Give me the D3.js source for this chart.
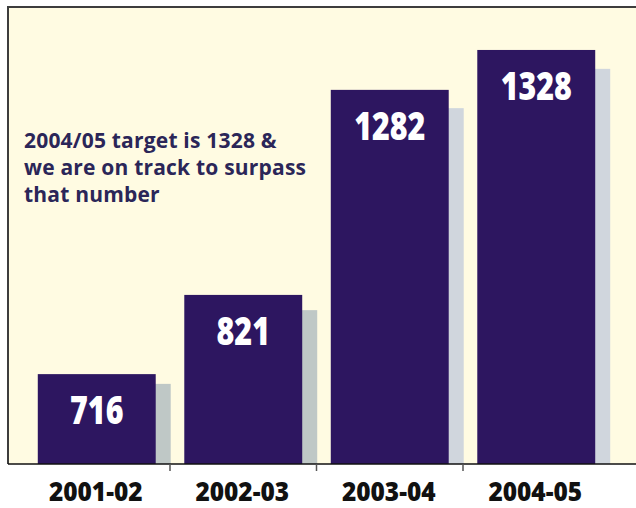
<!DOCTYPE html>
<html>
<head>
<meta charset="utf-8">
<script src="https://cdn.jsdelivr.net/npm/d3@7"></script>
<style>
  html, body { margin: 0; padding: 0; background: #fff; }
  svg { display: block; }
</style>
</head>
<body>
<svg id="chart"></svg>
<script>
// periods on the x axis
const years = ["2001-02", "2002-03", "2003-04", "2004-05"];
// numbers printed on the bars
const counts = [716, 821, 1282, 1328];
// bar heights as drawn (the original is not to scale), read on a 0-1500 axis
const barLevels = [295, 555, 1228, 1359];
// the grey shadow bars behind each column
const shadowLevels = [263, 505, 1168, 1297];
const note = ["2004/05 target is 1328 &", "we are on track to surpass", "that number"];

const width = 636, height = 508;
const plot = { left: 8, top: 7, right: 636, bottom: 464 };

const svg = d3.select("#chart")
  .attr("width", width)
  .attr("height", height);

svg.append("rect")
  .attr("x", plot.left)
  .attr("y", plot.top)
  .attr("width", plot.right - plot.left)
  .attr("height", plot.bottom - plot.top)
  .attr("fill", "#fffbe2");

const x = d3.scaleBand()
  .domain(years)
  .range([23.5, 609.5])
  .padding(0);

const y = d3.scaleLinear()
  .domain([0, 1500])
  .range([plot.bottom, plot.top]);

const barW = x.bandwidth() * 0.805;
const shadowShift = 15;

// shadows first so the purple bars sit on top
svg.append("g")
  .selectAll("rect")
  .data(years)
  .join("rect")
  .attr("x", (d) => x(d) + (x.bandwidth() - barW) / 2 + shadowShift)
  .attr("y", (d, i) => y(shadowLevels[i]))
  .attr("width", barW)
  .attr("height", (d, i) => y(0) - y(shadowLevels[i]))
  .attr("fill", (d, i) => i < 2 ? "#bfc8c6" : "#d0d6dd");

svg.append("g")
  .selectAll("rect")
  .data(years)
  .join("rect")
  .attr("x", (d) => x(d) + (x.bandwidth() - barW) / 2)
  .attr("y", (d, i) => y(barLevels[i]))
  .attr("width", barW)
  .attr("height", (d, i) => y(0) - y(barLevels[i]))
  .attr("fill", "#2d1660");

svg.append("g")
  .selectAll("text")
  .data(years)
  .join("text")
  .attr("transform", (d, i) =>
    `translate(${x(d) + x.bandwidth() / 2},${y(barLevels[i]) + 50}) scale(0.8,1)`)
  .attr("text-anchor", "middle")
  .attr("font-family", "'Open Sans', sans-serif")
  .attr("font-weight", 800)
  .attr("font-size", 38)
  .attr("fill", "#fff")
  .text((d, i) => counts[i]);

// frame: top and left edges
svg.append("path")
  .attr("d", `M${plot.left},${plot.bottom}V${plot.top}H${plot.right}`)
  .attr("fill", "none")
  .attr("stroke", "#3d3d3d")
  .attr("stroke-width", 2);

// x axis
const xAxis = svg.append("g")
  .attr("transform", `translate(0,${plot.bottom})`);

xAxis.append("line")
  .attr("x1", plot.left)
  .attr("x2", plot.right)
  .attr("stroke", "#111")
  .attr("stroke-width", 1.5);

xAxis.selectAll("line.tick")
  .data(years.slice(1))
  .join("line")
  .attr("class", "tick")
  .attr("x1", (d) => x(d))
  .attr("x2", (d) => x(d))
  .attr("y1", 0)
  .attr("y2", 7)
  .attr("stroke", "#555")
  .attr("stroke-width", 1.5);

xAxis.selectAll("text")
  .data(years)
  .join("text")
  .attr("transform", (d) => `translate(${x(d) + x.bandwidth() / 2 - 1},37) scale(0.94,1)`)
  .attr("text-anchor", "middle")
  .attr("font-family", "'Open Sans', sans-serif")
  .attr("font-weight", 800)
  .attr("font-size", 26)
  .attr("fill", "#111")
  .text((d) => d);

svg.append("g")
  .selectAll("text")
  .data(note)
  .join("text")
  .attr("x", 24)
  .attr("y", (d, i) => 148 + i * 27)
  .attr("font-family", "'Open Sans', sans-serif")
  .attr("font-weight", 700)
  .attr("font-size", 21)
  .attr("letter-spacing", 0.2)
  .attr("fill", "#2b2658")
  .text((d) => d);
</script>
</body>
</html>
